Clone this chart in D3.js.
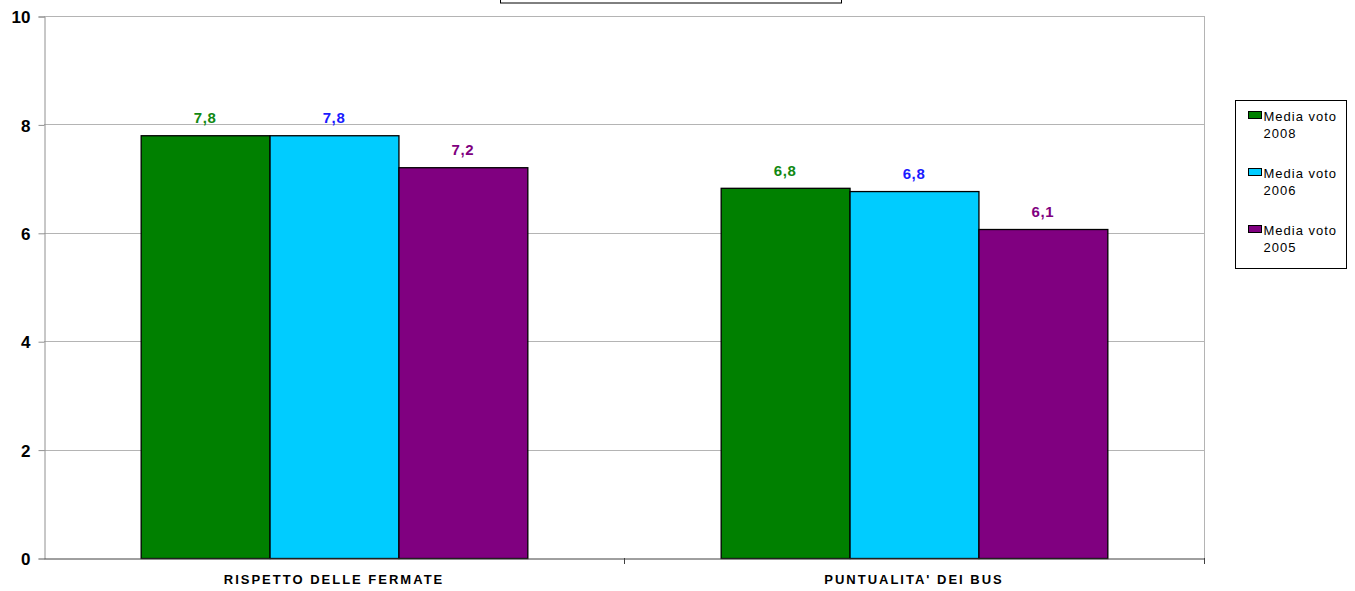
<!DOCTYPE html>
<html>
<head>
<meta charset="utf-8">
<script src="https://cdn.jsdelivr.net/npm/d3@7"></script>
<style>
  body { margin: 0; background: #fff; }
  svg { font-family: "Liberation Sans", Arial, sans-serif; display: block; }
</style>
</head>
<body>
<svg width="1355" height="591"></svg>
<script>
// Chart data
const categories = ["RISPETTO DELLE FERMATE", "PUNTUALITA' DEI BUS"];
const seriesNames = ["Media voto 2008", "Media voto 2006", "Media voto 2005"];
const values2008 = [7.8, 6.83];
const values2006 = [7.8, 6.77];
const values2005 = [7.21, 6.07];
const valueLabels = [["7,8", "6,8"], ["7,8", "6,8"], ["7,2", "6,1"]];
const yTicks = [0, 2, 4, 6, 8, 10];

const fills = ["#008000", "#00CCFF", "#800080"];
const labelColors = ["#118811", "#1a1aff", "#800080"];

const width = 1355;
const height = 591;
const margin = { top: 16, right: 151, bottom: 33, left: 44 };

const svg = d3.select("svg");

const seriesValues = [values2008, values2006, values2005];

// Scales
const xScale = d3.scaleBand()
    .domain(categories)
    .range([margin.left, width - margin.right]);

const xInner = d3.scaleBand()
    .domain(d3.range(seriesNames.length))
    .range([0, xScale.bandwidth()])
    .paddingOuter(0.75);

const yScale = d3.scaleLinear()
    .domain([0, 10])
    .range([height - margin.bottom, margin.top]);

// Title box (cut off at top)
svg.append("rect")
    .attr("x", 500.5).attr("y", -20.5)
    .attr("width", 341).attr("height", 23.5)
    .attr("fill", "#fff").attr("stroke", "#000");

// Gridlines
svg.append("g")
    .selectAll("line")
    .data(yTicks.filter(d => d > 0))
    .join("line")
    .attr("x1", margin.left)
    .attr("x2", width - margin.right)
    .attr("y1", d => Math.round(yScale(d)) + 0.5)
    .attr("y2", d => Math.round(yScale(d)) + 0.5)
    .attr("stroke", "#b4b4b4");

// Right border of plot area
svg.append("line")
    .attr("x1", width - margin.right + 0.5).attr("x2", width - margin.right + 0.5)
    .attr("y1", margin.top).attr("y2", height - margin.bottom)
    .attr("stroke", "#b4b4b4");

// Bars
const groups = svg.append("g")
    .selectAll("g")
    .data(seriesValues)
    .join("g")
    .attr("fill", (d, i) => fills[i]);

groups.selectAll("rect")
    .data((vals, s) => vals.map((v, c) => ({ v, c, s })))
    .join("rect")
    .attr("x", d => xScale(categories[d.c]) + xInner(d.s) + 0.5)
    .attr("y", d => yScale(d.v) + 0.5)
    .attr("width", xInner.bandwidth())
    .attr("height", d => yScale(0) - yScale(d.v))
    .attr("stroke", "#000")
    .attr("stroke-width", 1.3);

// Value labels
groups.selectAll("text")
    .data((vals, s) => vals.map((v, c) => ({ v, c, s })))
    .join("text")
    .attr("x", d => xScale(categories[d.c]) + xInner(d.s) + xInner.bandwidth() / 2)
    .attr("y", d => yScale(d.v) - 12)
    .attr("text-anchor", "middle")
    .attr("fill", d => labelColors[d.s])
    .style("font-size", "15px")
    .style("font-weight", "bold")
    .style("letter-spacing", "0.6px")
    .text(d => valueLabels[d.s][d.c]);

// Y axis
const yAxis = svg.append("g")
    .attr("transform", `translate(${margin.left + 0.5}, 0.5)`)
    .call(d3.axisLeft(yScale).tickValues(yTicks).tickSize(6).tickPadding(8).tickFormat(d3.format("d")));
yAxis.select(".domain").attr("stroke", "#909090");
yAxis.selectAll(".tick line").attr("stroke", "#909090");
yAxis.selectAll("text")
    .style("font-size", "17px")
    .style("font-weight", "bold")
    .attr("dy", "0.36em")
    .attr("fill", "#000");

// X axis
const xAxis = svg.append("g")
    .attr("transform", `translate(0, ${height - margin.bottom + 0.5})`)
    .call(d3.axisBottom(xScale).tickSize(0).tickPadding(16));
xAxis.select(".domain").attr("stroke", "#404040");
xAxis.selectAll("text")
    .style("font-size", "13px")
    .style("font-weight", "bold")
    .style("letter-spacing", "2px")
    .attr("fill", "#000");

// Category separator ticks
svg.append("g")
    .selectAll("line")
    .data([xScale(categories[1]), width - margin.right])
    .join("line")
    .attr("x1", d => Math.round(d) + 0.5)
    .attr("x2", d => Math.round(d) + 0.5)
    .attr("y1", height - margin.bottom)
    .attr("y2", height - margin.bottom + 6)
    .attr("stroke", "#404040");

// Legend
const legend = svg.append("g").attr("transform", "translate(1235.5, 100.5)");
legend.append("rect")
    .attr("width", 111).attr("height", 168)
    .attr("fill", "#fff").attr("stroke", "#000");

const legendItems = legend.selectAll("g.item")
    .data(seriesNames)
    .join("g")
    .attr("class", "item")
    .attr("transform", (d, i) => `translate(0, ${16 + i * 57})`);

legendItems.append("rect")
    .attr("x", 13).attr("y", -5)
    .attr("width", 13).attr("height", 7)
    .attr("fill", (d, i) => fills[i])
    .attr("stroke", "#000");

legendItems.append("text")
    .attr("x", 28).attr("y", 4)
    .style("font-size", "13px")
    .style("letter-spacing", "1px")
    .text(d => d.split(" ").slice(0, 2).join(" "));

legendItems.append("text")
    .attr("x", 28).attr("y", 21)
    .style("font-size", "13px")
    .style("letter-spacing", "1px")
    .text(d => d.split(" ")[2]);
</script>
</body>
</html>
